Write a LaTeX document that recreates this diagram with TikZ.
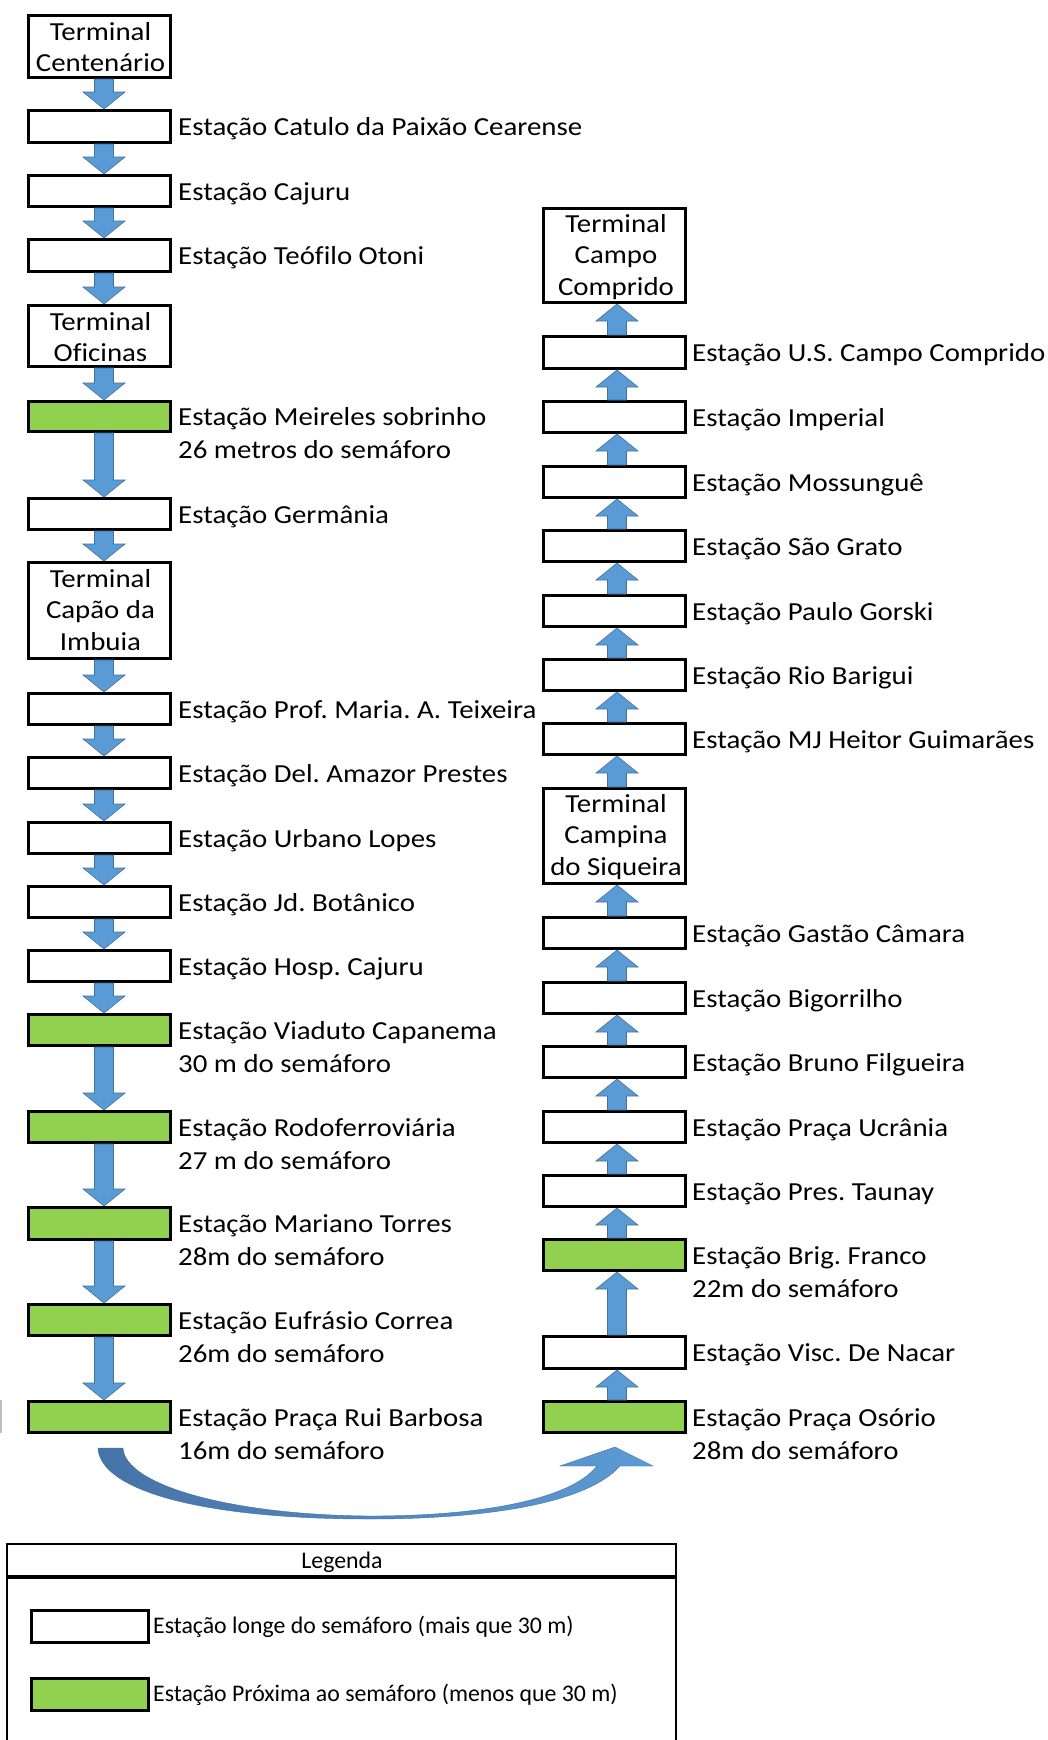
\documentclass[tikz,border=0pt]{standalone}
\usepackage{fontspec}
\setmainfont[FakeStretch=1.11, Ligatures=CommonOff]{Carlito}
\newfontfamily\legfont[Ligatures=CommonOff]{Carlito}
\usetikzlibrary{calc}
\definecolor{grn}{HTML}{92D050}
\definecolor{arr}{HTML}{5B9BD5}
\definecolor{arrd}{HTML}{41719C}
\definecolor{arrdark}{HTML}{4673A8}
\tikzset{
  stbox/.style={draw=black, line width=3.3pt, fill=white, minimum width=141.7pt, inner sep=0pt},
  gbox/.style={stbox, fill=grn},
  lbl/.style={anchor=base west, inner sep=0pt, font=\fontsize{26}{31}\selectfont},
  tlbl/.style={anchor=base, inner sep=0pt, font=\fontsize{26}{31}\selectfont},
  leglbl/.style={anchor=base west, inner sep=0pt, font=\legfont\fontsize{23.8}{28}\selectfont},
  barrow/.style={fill=arr, draw=arrd, line width=0.6pt, line join=miter},
}
% box: name, style, xleft, top, bottom
\newcommand{\mkbox}[5]{\node[#2, minimum height={#5-#4-3.3}] (#1) at ({#3+72.5},{(#4+#5)/2}) {};}
% label line 1 / line 2: name, xshift, text
\newcommand{\mklab}[3]{\node[lbl] (#1-t) at ($(#1.east)+(#2,9)$) {#3};}
\newcommand{\mklabb}[3]{\node[lbl] (#1-d) at ($(#1.east)+(#2,42)$) {#3};}
% terminal text line: node name, box, xshift, dy from top, text
\newcommand{\mkterm}[5]{\node[tlbl] (#1) at ($(#2.north)+(#3,#4)$) {#5};}
% down arrow: from, to, x offset
\newcommand{\dnarr}[3]{\path[barrow] let \p1=(#1.south), \p2=(#2.north) in
  (\x1+#3pt-9.5pt,\y1) -- (\x1+#3pt+9.5pt,\y1) -- (\x1+#3pt+9.5pt,\y2+17pt) -- (\x1+#3pt+21pt,\y2+17pt)
  -- (\x1+#3pt,\y2) -- (\x1+#3pt-21pt,\y2+17pt) -- (\x1+#3pt-9.5pt,\y2+17pt) -- cycle;}
% up arrow: from (lower), to (upper), x offset
\newcommand{\uparr}[3]{\path[barrow] let \p1=(#1.north), \p2=(#2.south) in
  (\x1+#3pt-9.5pt,\y1) -- (\x1+#3pt+9.5pt,\y1) -- (\x1+#3pt+9.5pt,\y2-17pt) -- (\x1+#3pt+21pt,\y2-17pt)
  -- (\x1+#3pt,\y2) -- (\x1+#3pt-21pt,\y2-17pt) -- (\x1+#3pt-9.5pt,\y2-17pt) -- cycle;}

\begin{document}
\frenchspacing
\begin{tikzpicture}[x=1pt,y=-1pt]
\useasboundingbox (0,0) rectangle (1047,1740);
\fill[white] (0,0) rectangle (1047,1740);

% ---------------- left column ----------------
\mkbox{L1}{stbox}{27}{14}{79}
\mkterm{L1a}{L1}{1}{26}{Terminal}
\mkterm{L1b}{L1}{1}{57}{Centenário}
\mkbox{L2}{stbox}{27}{109}{144}  \mklab{L2}{6}{Estação Catulo da Paixão Cearense}
\mkbox{L3}{stbox}{27}{174}{208}  \mklab{L3}{6}{Estação Cajuru}
\mkbox{L4}{stbox}{27}{238}{273}  \mklab{L4}{6}{Estação Teófilo Otoni}
\mkbox{L5}{stbox}{27}{304}{368}
\mkterm{L5a}{L5}{1}{26}{Terminal}
\mkterm{L5b}{L5}{1}{57}{Oficinas}
\mkbox{L6}{gbox}{27}{400}{433}   \mklab{L6}{6}{Estação Meireles sobrinho} \mklabb{L6}{6}{26 metros do semáforo}
\mkbox{L7}{stbox}{27}{497}{531}  \mklab{L7}{6}{Estação Germânia}
\mkbox{L8}{stbox}{27}{561}{660}
\mkterm{L8a}{L8}{1}{26}{Terminal}
\mkterm{L8b}{L8}{1}{57}{Capão da}
\mkterm{L8c}{L8}{1}{89}{Imbuia}
\mkbox{L9}{stbox}{27}{692}{726}  \mklab{L9}{6}{Estação Prof. Maria. A. Teixeira}
\mkbox{L10}{stbox}{27}{756}{790} \mklab{L10}{6}{Estação Del. Amazor Prestes}
\mkbox{L11}{stbox}{27}{821}{855} \mklab{L11}{6}{Estação Urbano Lopes}
\mkbox{L12}{stbox}{27}{885}{919} \mklab{L12}{6}{Estação Jd. Botânico}
\mkbox{L13}{stbox}{27}{949}{983} \mklab{L13}{6}{Estação Hosp. Cajuru}
\mkbox{L14}{gbox}{27}{1013}{1047} \mklab{L14}{6}{Estação Viaduto Capanema} \mklabb{L14}{6}{30 m do semáforo}
\mkbox{L15}{gbox}{27}{1110}{1144} \mklab{L15}{6}{Estação Rodoferroviária} \mklabb{L15}{6}{27 m do semáforo}
\mkbox{L16}{gbox}{27}{1206}{1241} \mklab{L16}{6}{Estação Mariano Torres} \mklabb{L16}{6}{28m do semáforo}
\mkbox{L17}{gbox}{27}{1303}{1337} \mklab{L17}{6}{Estação Eufrásio Correa} \mklabb{L17}{6}{26m do semáforo}
\mkbox{L18}{gbox}{27}{1400}{1434} \mklab{L18}{6}{Estação Praça Rui Barbosa} \mklabb{L18}{6}{16m do semáforo}

\foreach \a/\b in {L1/L2,L2/L3,L3/L4,L4/L5,L5/L6,L6/L7,L7/L8,L8/L9,L9/L10,L10/L11,L11/L12,L12/L13,L13/L14,L14/L15,L15/L16,L16/L17,L17/L18}
  {\dnarr{\a}{\b}{4.5}}

% ---------------- right column ----------------
\mkbox{R1}{stbox}{542}{207}{304}
\mkterm{R1a}{R1}{1.5}{25}{Terminal}
\mkterm{R1b}{R1}{1.5}{56}{Campo}
\mkterm{R1c}{R1}{1.5}{88}{Comprido}
\mkbox{R2}{stbox}{542}{335}{370}  \mklab{R2}{5}{Estação U.S. Campo Comprido}
\mkbox{R3}{stbox}{542}{400}{434}  \mklab{R3}{5}{Estação Imperial}
\mkbox{R4}{stbox}{542}{465}{499}  \mklab{R4}{5}{Estação Mossunguê}
\mkbox{R5}{stbox}{542}{529}{563}  \mklab{R5}{5}{Estação São Grato}
\mkbox{R6}{stbox}{542}{594}{628}  \mklab{R6}{5}{Estação Paulo Gorski}
\mkbox{R7}{stbox}{542}{658}{692}  \mklab{R7}{5}{Estação Rio Barigui}
\mkbox{R8}{stbox}{542}{722}{756}  \mklab{R8}{5}{Estação MJ Heitor Guimarães}
\mkbox{R9}{stbox}{542}{787}{885}
\mkterm{R9a}{R9}{1.5}{25}{Terminal}
\mkterm{R9b}{R9}{1.5}{56}{Campina}
\mkterm{R9c}{R9}{1.5}{88}{do Siqueira}
\mkbox{R10}{stbox}{542}{916}{950}   \mklab{R10}{5}{Estação Gastão Câmara}
\mkbox{R11}{stbox}{542}{981}{1015}  \mklab{R11}{5}{Estação Bigorrilho}
\mkbox{R12}{stbox}{542}{1045}{1079} \mklab{R12}{5}{Estação Bruno Filgueira}
\mkbox{R13}{stbox}{542}{1110}{1144} \mklab{R13}{5}{Estação Praça Ucrânia}
\mkbox{R14}{stbox}{542}{1174}{1208} \mklab{R14}{5}{Estação Pres. Taunay}
\mkbox{R15}{gbox}{542}{1238}{1272}  \mklab{R15}{5}{Estação Brig. Franco} \mklabb{R15}{5}{22m do semáforo}
\mkbox{R16}{stbox}{542}{1335}{1370} \mklab{R16}{5}{Estação Visc. De Nacar}
\mkbox{R17}{gbox}{542}{1400}{1434}  \mklab{R17}{5}{Estação Praça Osório} \mklabb{R17}{5}{28m do semáforo}

\foreach \a/\b in {R17/R16,R16/R15,R15/R14,R14/R13,R13/R12,R12/R11,R11/R10,R10/R9,R9/R8,R8/R7,R7/R6,R6/R5,R5/R4,R4/R3,R3/R2,R2/R1}
  {\uparr{\a}{\b}{2.5}}

% ---------------- curved arrow ----------------
\coordinate (cs) at (98,1448);
\coordinate (ce) at (615,1447);
\path[left color=arrdark, right color=arr, draw=arrd, line width=0.4pt]
  (cs) -- (123,1448) .. controls (125,1485) and (230,1515) .. (370,1516)
  .. controls (480,1516) and (570,1500) .. (597,1466) -- (560,1466) -- (ce) -- (653,1466) -- (620,1466)
  .. controls (585,1505) and (480,1519) .. (370,1519)
  .. controls (200,1519) and (100,1490) .. (cs) -- cycle;

% small grey edge mark
\fill[black!25] (0,1400) rectangle (2,1433);

% ---------------- legend ----------------
\draw[line width=2pt] (7,1760) -- (7,1544) -- (676,1544) -- (676,1760);
\draw[line width=3.3pt] (7,1577) -- (676,1577);
\node[anchor=base, inner sep=0pt, font=\legfont\fontsize{23.8}{28}\selectfont] (legt) at (342,1568) {Legenda};
\node[stbox, minimum width=116.7pt, minimum height=31.7pt] (lg1) at (90,1626.5) {};
\node[gbox, minimum width=116.7pt, minimum height=31.7pt] (lg2) at (90,1694.5) {};
\node[leglbl] (lg1t) at ($(lg1.east)+(3,7)$) {Estação longe do semáforo (mais que 30 m)};
\node[leglbl] (lg2t) at ($(lg2.east)+(3,7)$) {Estação Próxima ao semáforo (menos que 30 m)};
\end{tikzpicture}
\end{document}
